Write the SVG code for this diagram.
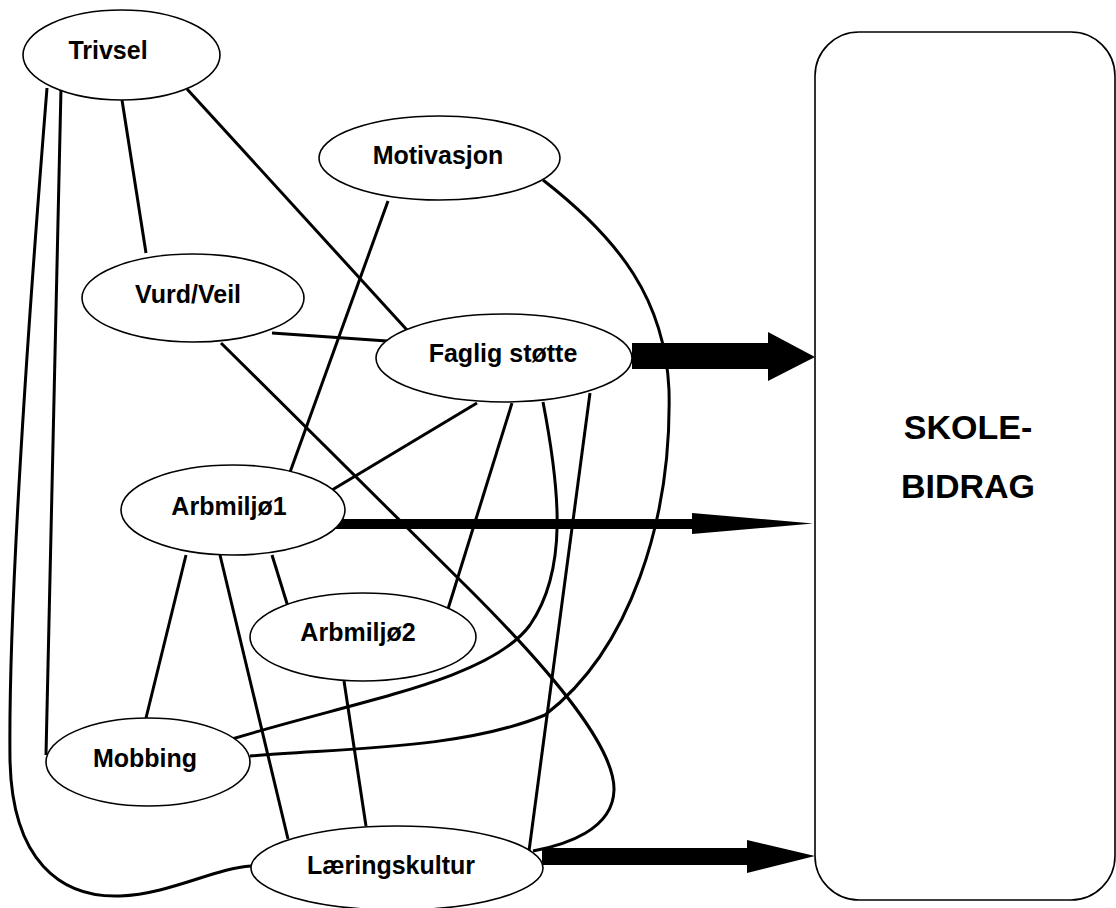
<svg xmlns="http://www.w3.org/2000/svg" width="1116" height="908" viewBox="0 0 1116 908">
<style>
.node ellipse{fill:#fff;stroke:#000;stroke-width:1.6}
.lbl{font-family:"Liberation Sans",Arial,sans-serif;font-weight:bold;font-size:25px;text-anchor:middle;fill:#000}
.big{font-size:34px}
#connectors .ln{fill:none;stroke:#000;stroke-width:3;stroke-linecap:butt}
#connectors .arr{fill:#000;stroke:none}
</style>
<rect width="1116" height="908" fill="#fff"/>
<g id="connectors">
<path class="ln" d="M47,88 C30,300 8,600 10,760 C12,860 60,898 120,896 C170,894 215,868 251,866"/>
<path class="ln" d="M61,88 L46,755"/>
<path class="ln" d="M122,100 L146,253"/>
<path class="ln" d="M187,89 L407,330"/>
<path class="ln" d="M388,201 L289,475"/>
<path class="ln" d="M543,180 C620,240 665,300 669,390 C672,520 630,650 545,715 C460,750 340,748 250,756"/>
<path class="ln" d="M272,333 L387,341"/>
<path class="ln" d="M221,343 L470,590 C560,680 615,750 614,790 C613,830 565,845 533,851"/>
<path class="ln" d="M477,403 L332,490"/>
<path class="ln" d="M512,403 L448,609"/>
<path class="ln" d="M543,402 C560,490 568,570 530,625 C490,680 360,700 232,739"/>
<path class="ln" d="M590,393 L529,851"/>
<path class="ln" d="M272,555 L289,610"/>
<path class="ln" d="M186,555 L146,718"/>
<path class="ln" d="M220,555 L288,839"/>
<path class="ln" d="M344,681 L366,826"/>
<polygon class="arr" points="632,343 768,343 768,332 815,357 768,381 768,369 632,369"/>
<polygon class="arr" points="332,519 692,519 692,513 813,523.5 692,534 692,529 332,529"/>
<polygon class="arr" points="542,848 747,848 747,840 815,856 747,873 747,865 542,865"/>
</g>
<g id="trivsel" class="node"><ellipse cx="121.5" cy="55" rx="98.5" ry="45"/><text class="lbl" x="108" y="59">Trivsel</text></g>
<g id="motivasjon" class="node"><ellipse cx="439.5" cy="158" rx="120.5" ry="42"/><text class="lbl" x="438" y="164">Motivasjon</text></g>
<g id="vurdveil" class="node"><ellipse cx="193" cy="298" rx="111" ry="44"/><text class="lbl" x="188" y="303">Vurd/Veil</text></g>
<g id="faglig" class="node"><ellipse cx="504" cy="358" rx="128" ry="44"/><text class="lbl" x="503" y="362">Faglig støtte</text></g>
<g id="arbmiljo1" class="node"><ellipse cx="233" cy="510" rx="112" ry="45"/><text class="lbl" x="229" y="515">Arbmiljø1</text></g>
<g id="arbmiljo2" class="node"><ellipse cx="363" cy="637" rx="113" ry="44"/><text class="lbl" x="358" y="641">Arbmiljø2</text></g>
<g id="mobbing" class="node"><ellipse cx="148" cy="762" rx="102" ry="44"/><text class="lbl" x="145" y="767">Mobbing</text></g>
<g id="laeringskultur" class="node"><ellipse cx="397" cy="868" rx="146" ry="42"/><text class="lbl" x="391" y="874">Læringskultur</text></g>
<g id="skolebidrag" class="node"><rect x="815" y="32" width="300" height="868" rx="44" ry="44" fill="#fff" stroke="#000" stroke-width="1.6"/><text class="lbl big" x="968" y="439">SKOLE-</text><text class="lbl big" x="968" y="498">BIDRAG</text></g>
</svg>
